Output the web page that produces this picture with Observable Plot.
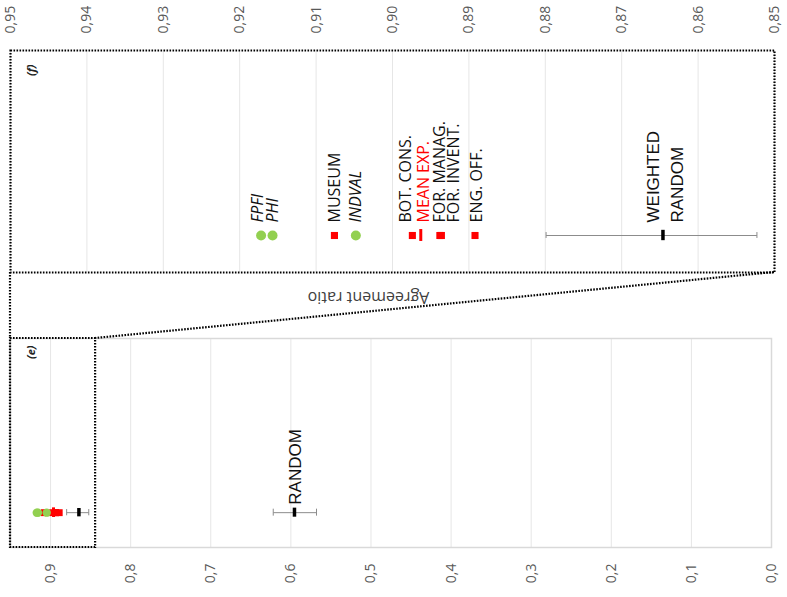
<!DOCTYPE html>
<html><head><meta charset="utf-8">
<script src="https://cdn.jsdelivr.net/npm/d3@7"></script>
<script src="https://cdn.jsdelivr.net/npm/@observablehq/plot@0.6"></script>
<style>
body{margin:0;background:#fff;}
#wrap{position:relative;width:787px;height:597px;overflow:hidden;font-family:"Open Sans",sans-serif;}
#wrap svg{position:absolute;left:0;overflow:visible;}
</style></head><body><div id="wrap"></div>
<script>
// ---- data ----
const methodNames  = ["FPFI", "PHI", "MUSEUM", "INDVAL", "BOT. CONS.", "FOR. MANAG.", "FOR. INVENT.", "ENG. OFF."];
const methodValues = [0.9172, 0.9157, 0.9076, 0.9048, 0.8974, 0.8938, 0.8936, 0.8892];
const methodKinds  = ["index", "index", "expert", "index", "expert", "expert", "expert", "expert"];
const meanExpLabel = "MEAN EXP.";
const meanExpValue = 0.8963;
const weightedRandomLabel = "WEIGHTED\nRANDOM";
const weightedRandom = [0.8646, 0.8523, 0.8799]; // mean, low, high
const randomLabel = "RANDOM";
const randomValues = [0.5955, 0.568, 0.622];      // mean, low, high
const topTicks = [0.95, 0.94, 0.93, 0.92, 0.91, 0.90, 0.89, 0.88, 0.87, 0.86, 0.85];
const bottomTicks = [0.9, 0.8, 0.7, 0.6, 0.5, 0.4, 0.3, 0.2, 0.1, 0.0];
const topDomain = [0.95, 0.85];
const bottomDomain = [0.95, 0];
const axisTitle = "Agreement ratio";
const panelTop = "(f)", panelBottom = "(e)";

// ---- layout / style ----
const ROW = 1;
const RED = "#ff0000", GREEN = "#92d050", GRID = "#e6e6e6", ERR = "#8c8c8c";
const DOT = {stroke: "black", strokeWidth: 2.2, strokeDasharray: "1.6,1.4"};
const points = methodNames.map((n, i) => ({name: n, value: methodValues[i], kind: methodKinds[i]}));
const labelNudge = {"FPFI": -3, "BOT. CONS.": -6, "FOR. INVENT.": 12, "ENG. OFF.": 2};
const f2 = d => d.toFixed(2).replace(".", ",");
const f1 = d => d.toFixed(1).replace(".", ",");
const sans = "'Open Sans', sans-serif";
const arial = "'Liberation Sans', Arial, sans-serif";

function markerMarks(sq, rc, barH, capH) {
  const wr = {m: weightedRandom[0], lo: weightedRandom[1], hi: weightedRandom[2]};
  return [
    Plot.link([wr], {x1: "lo", x2: "hi", y1: ROW, y2: ROW, stroke: ERR, strokeWidth: 1}),
    Plot.ruleX([wr.lo, wr.hi], {x: d => d, y1: ROW - capH, y2: ROW + capH, stroke: ERR, strokeWidth: 1}),
    Plot.ruleX([wr.m], {x: d => d, y1: ROW - barH, y2: ROW + barH, stroke: "black", strokeWidth: 3.5}),
    Plot.dot(points.filter(d => d.kind === "expert"), {x: "value", y: ROW, symbol: "square", r: sq, fill: RED, stroke: "none"}),
    Plot.ruleX([meanExpValue], {x: d => d, y1: ROW - barH * 1.15, y2: ROW + barH * 1.15, stroke: RED, strokeWidth: 3}),
    Plot.dot(points.filter(d => d.kind === "index"), {x: "value", y: ROW, r: rc, fill: GREEN, stroke: "none"})
  ];
}

// ---- top panel (f) ----
const topLabels = points.map(d => Plot.text([d], {
  x: "value", y: ROW, text: "name", rotate: -90, textAnchor: "start", lineAnchor: "middle",
  dy: -13, dx: labelNudge[d.name] || 0, fontSize: 16, fontFamily: sans,
  fontStyle: d.kind === "index" ? "italic" : "normal", fill: "#111"
}));

const topPlot = Plot.plot({
  width: 787, height: 310,
  marginLeft: 10, marginRight: 13, marginTop: 50, marginBottom: 38,
  x: {domain: topDomain},
  y: {domain: [0, 6], axis: null},
  style: {fontFamily: sans, background: "transparent", overflow: "visible"},
  marks: [
    Plot.gridX(topTicks, {stroke: GRID, strokeOpacity: 1}),
    Plot.axisX(topTicks, {anchor: "top", tickFormat: f2, tickRotate: -90, tickSize: 0, tickPadding: 17,
      fontSize: 14, fill: "#595959", label: null, textAnchor: "start"}),
    ...markerMarks(4, 5, 0.14, 0.08),
    ...topLabels,
    Plot.text([meanExpLabel], {x: () => meanExpValue, y: ROW, rotate: -90, textAnchor: "start", lineAnchor: "middle",
      dy: -13, dx: 3, fontSize: 16, fontFamily: sans, fill: RED}),
    Plot.text([weightedRandomLabel], {x: () => weightedRandom[0], y: ROW, rotate: -90, textAnchor: "start",
      lineAnchor: "middle", lineHeight: 1.45, dy: -13, fontSize: 17, fontFamily: arial, fill: "#111"}),
    Plot.text([panelTop], {frameAnchor: "top-left", dx: 17, dy: 14, rotate: -90, textAnchor: "end", fontSize: 11,
      fontStyle: "italic", fontWeight: "bold", fill: "#222"}),
    Plot.text([axisTitle], {frameAnchor: "bottom", dx: -24, dy: 19, rotate: 180, fontSize: 16, fill: "#404040"}),
    Plot.frame(DOT)
  ]
});

// ---- bottom panel (e) ----
const bottomPlot = Plot.plot({
  width: 787, height: 287,
  marginLeft: 10, marginRight: 16, marginTop: 28, marginBottom: 50,
  x: {domain: bottomDomain},
  y: {domain: [0, 6], axis: null},
  style: {fontFamily: sans, background: "transparent", overflow: "visible"},
  marks: [
    Plot.gridX(bottomTicks, {stroke: GRID, strokeOpacity: 1}),
    Plot.frame({stroke: "#d9d9d9", strokeWidth: 1.5}),
    Plot.axisX(bottomTicks, {anchor: "bottom", tickFormat: f1, tickRotate: -90, tickSize: 0, tickPadding: 16,
      fontSize: 14, fill: "#595959", label: null, textAnchor: "end"}),
    Plot.link([{lo: randomValues[1], hi: randomValues[2]}], {x1: "lo", x2: "hi", y1: ROW, y2: ROW, stroke: ERR, strokeWidth: 1}),
    Plot.ruleX([randomValues[1], randomValues[2]], {x: d => d, y1: ROW - 0.1, y2: ROW + 0.1, stroke: ERR, strokeWidth: 1}),
    Plot.ruleX([randomValues[0]], {x: d => d, y1: ROW - 0.13, y2: ROW + 0.13, stroke: "black", strokeWidth: 3.5}),
    Plot.text([randomLabel], {x: () => randomValues[0], y: ROW, rotate: -90, textAnchor: "start", lineAnchor: "middle",
      dy: -8, dx: 1, fontSize: 17, fontFamily: arial, fill: "#111"}),
    ...markerMarks(3.9, 4.2, 0.12, 0.09),
    Plot.rect([{x1: topDomain[0], x2: topDomain[1]}], {x1: "x1", x2: "x2", fill: "none", insetRight: -5, ...DOT}),
    Plot.text([panelBottom], {frameAnchor: "top-left", dx: 17, dy: 7, rotate: -90, textAnchor: "end", fontSize: 11,
      fontStyle: "italic", fontWeight: "bold", fill: "#222"})
  ]
});

const wrap = document.getElementById("wrap");
const BOTTOM_OFFSET = 310;
topPlot.style.top = "0px";
bottomPlot.style.top = BOTTOM_OFFSET + "px";
wrap.appendChild(topPlot);
wrap.appendChild(bottomPlot);

// ---- zoom connector lines, positioned with the two plots' scales ----
const tx = topPlot.scale("x"), bx = bottomPlot.scale("x");
const topBottomY = 310 - 38;
const botTopY = BOTTOM_OFFSET + 28;
const svg = d3.select(wrap).append("svg").attr("width", 787).attr("height", 597).style("top", "0px");
const conn = [
  [[tx.apply(topDomain[0]), topBottomY], [bx.apply(topDomain[0]), botTopY]],
  [[tx.apply(topDomain[1]), topBottomY], [bx.apply(topDomain[1]) + 5, botTopY]]
];
svg.selectAll("line").data(conn).join("line")
  .attr("x1", d => d[0][0]).attr("y1", d => d[0][1])
  .attr("x2", d => d[1][0]).attr("y2", d => d[1][1])
  .attr("stroke", DOT.stroke).attr("stroke-width", DOT.strokeWidth).attr("stroke-dasharray", DOT.strokeDasharray);
</script></body></html>
